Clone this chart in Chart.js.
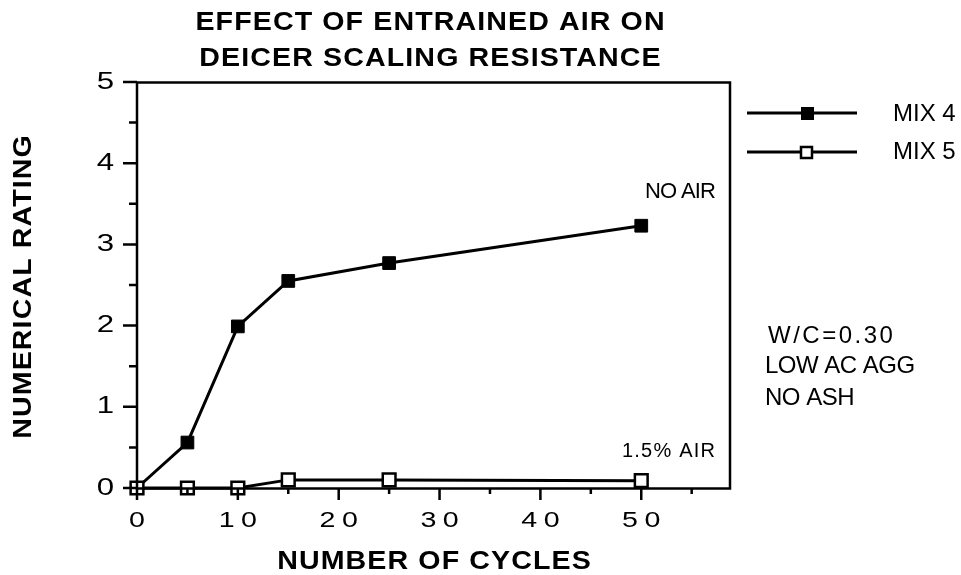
<!DOCTYPE html>
<html>
<head>
<meta charset="utf-8">
<script src="https://cdn.jsdelivr.net/npm/chart.js@4/dist/chart.umd.min.js"></script>
<style>
  html, body { margin: 0; padding: 0; background: #fff; }
  canvas { display: block; }
</style>
</head>
<body>
<canvas id="grafico" width="961" height="575"></canvas>
<script>
// ─── Dados ────────────────────────────────────────────────────────────────────
const ciclos = [0, 5, 10, 15, 25, 50];
const mix4   = [0, 0.56, 1.99, 2.55, 2.77, 3.23];
const mix5   = [0, 0, 0, 0.1, 0.1, 0.09];

// Ticks dos eixos
const xMaiores = [0, 10, 20, 30, 40, 50];
const xMenores = [5, 15, 25, 35, 45, 55];
const yMaiores = [0, 1, 2, 3, 4, 5];
const yMenores = [0.5, 1.5, 2.5, 3.5, 4.5];

const FONTE = '"Liberation Sans", Arial, Helvetica, sans-serif';

// texto com espaçamento e largura (escala horizontal) ajustáveis
function texto(ctx, s, x, y, fonte, align = 'left', espaco = 0, sx = 1) {
  ctx.save();
  ctx.font = fonte;
  ctx.letterSpacing = espaco + 'px';
  ctx.textAlign = align;
  ctx.textBaseline = 'middle';
  ctx.fillStyle = '#000';
  // compensa o espaço extra depois do último caractere
  const dx = align === 'center' ? espaco / 2 : (align === 'right' ? espaco : 0);
  ctx.translate(x, y);
  ctx.scale(sx, 1);
  ctx.fillText(s, dx, 0);
  ctx.restore();
}

// ─── Plugin: moldura, ticks, textos e legenda ────────────────────────────────
const decoracao = {
  id: 'decoracao',
  afterDraw(chart) {
    const { ctx, chartArea: a, scales: { x, y } } = chart;
    ctx.save();
    ctx.strokeStyle = '#000';
    ctx.lineWidth = 2.5;
    ctx.strokeRect(a.left, a.top + 0.5, a.right - a.left, a.bottom - a.top);

    ctx.beginPath();
    xMaiores.forEach(v => { const px = x.getPixelForValue(v); ctx.moveTo(px, a.bottom); ctx.lineTo(px, a.bottom + 12); });
    xMenores.forEach(v => { const px = x.getPixelForValue(v); ctx.moveTo(px, a.bottom); ctx.lineTo(px, a.bottom + 6); });
    yMaiores.forEach(v => { const py = y.getPixelForValue(v); ctx.moveTo(a.left, py); ctx.lineTo(a.left - 14, py); });
    yMenores.forEach(v => { const py = y.getPixelForValue(v); ctx.moveTo(a.left, py); ctx.lineTo(a.left - 8, py); });
    ctx.stroke();
    ctx.restore();

    // rótulos dos ticks
    xMaiores.forEach(v => texto(ctx, String(v), x.getPixelForValue(v), 521, `22px ${FONTE}`, 'center', 5, 1.3));
    yMaiores.forEach(v => texto(ctx, String(v), 114, y.getPixelForValue(v), `24px ${FONTE}`, 'right', 0, 1.3));

    // títulos
    texto(ctx, 'EFFECT OF ENTRAINED AIR ON', 430, 23, `bold 26px ${FONTE}`, 'center', 1, 1.1);
    texto(ctx, 'DEICER SCALING RESISTANCE', 430, 59, `bold 26px ${FONTE}`, 'center', 1, 1.1);
    texto(ctx, 'NUMBER OF CYCLES', 434, 562, `bold 26px ${FONTE}`, 'center', 1, 1.1);
    ctx.save();
    ctx.translate(24, 287);
    ctx.rotate(-Math.PI / 2);
    texto(ctx, 'NUMERICAL RATING', 0, 0, `bold 26px ${FONTE}`, 'center', 1, 1.1);
    ctx.restore();

    // anotações
    texto(ctx, 'NO AIR', 645, 192, `22px ${FONTE}`, 'left', -1);
    texto(ctx, '1.5% AIR', 622, 451, `20px ${FONTE}`, 'left', 1.2);
    texto(ctx, 'W/C=0.30', 768, 336, `24px ${FONTE}`, 'left', 2.5);
    texto(ctx, 'LOW AC AGG', 765, 366, `24px ${FONTE}`, 'left', -0.5);
    texto(ctx, 'NO ASH', 765, 398, `24px ${FONTE}`, 'left', -0.5);

    // legenda
    ctx.save();
    ctx.strokeStyle = '#000';
    ctx.lineWidth = 3;
    ctx.beginPath();
    ctx.moveTo(747, 113); ctx.lineTo(857, 113);
    ctx.moveTo(747, 152); ctx.lineTo(857, 152);
    ctx.stroke();
    ctx.fillStyle = '#000';
    ctx.fillRect(801, 107, 13, 13);
    ctx.fillStyle = '#fff';
    ctx.lineWidth = 2.5;
    ctx.fillRect(801, 147, 11, 11);
    ctx.strokeRect(801, 147, 11, 11);
    ctx.restore();
    texto(ctx, 'MIX 4', 893, 114, `24px ${FONTE}`, 'left');
    texto(ctx, 'MIX 5', 893, 152, `24px ${FONTE}`, 'left');
  }
};

// ─── Gráfico ─────────────────────────────────────────────────────────────────
new Chart(document.getElementById('grafico').getContext('2d'), {
  type: 'line',
  data: {
    labels: ciclos,
    datasets: [
      {
        label: 'MIX 4',
        data: ciclos.map((c, i) => ({ x: c, y: mix4[i] })),
        borderColor: '#000',
        borderWidth: 3,
        pointStyle: 'rect',
        pointRadius: 9,
        pointBackgroundColor: '#000',
        pointBorderColor: '#000',
        pointBorderWidth: 1,
        tension: 0,
        clip: false,
        order: 1,
      },
      {
        label: 'MIX 5',
        data: ciclos.map((c, i) => ({ x: c, y: mix5[i] })),
        borderColor: '#000',
        borderWidth: 3,
        pointStyle: 'rect',
        pointRadius: 9,
        pointBackgroundColor: '#fff',
        pointBorderColor: '#000',
        pointBorderWidth: 2.5,
        tension: 0,
        clip: false,
        order: 0,
      },
    ],
  },
  options: {
    responsive: false,
    animation: false,
    devicePixelRatio: 1,
    layout: { padding: { left: 0, right: 231, top: 82, bottom: 0 } },
    scales: {
      x: {
        type: 'linear', min: 0, max: 58.8,
        grid: { display: false }, border: { display: false },
        ticks: { display: false },
        afterFit: s => { s.height = 87; },
      },
      y: {
        min: 0, max: 5,
        grid: { display: false }, border: { display: false },
        ticks: { display: false },
        afterFit: s => { s.width = 137; },
      },
    },
    plugins: { legend: { display: false }, title: { display: false }, tooltip: { enabled: false } },
  },
  plugins: [decoracao],
});
</script>
</body>
</html>
